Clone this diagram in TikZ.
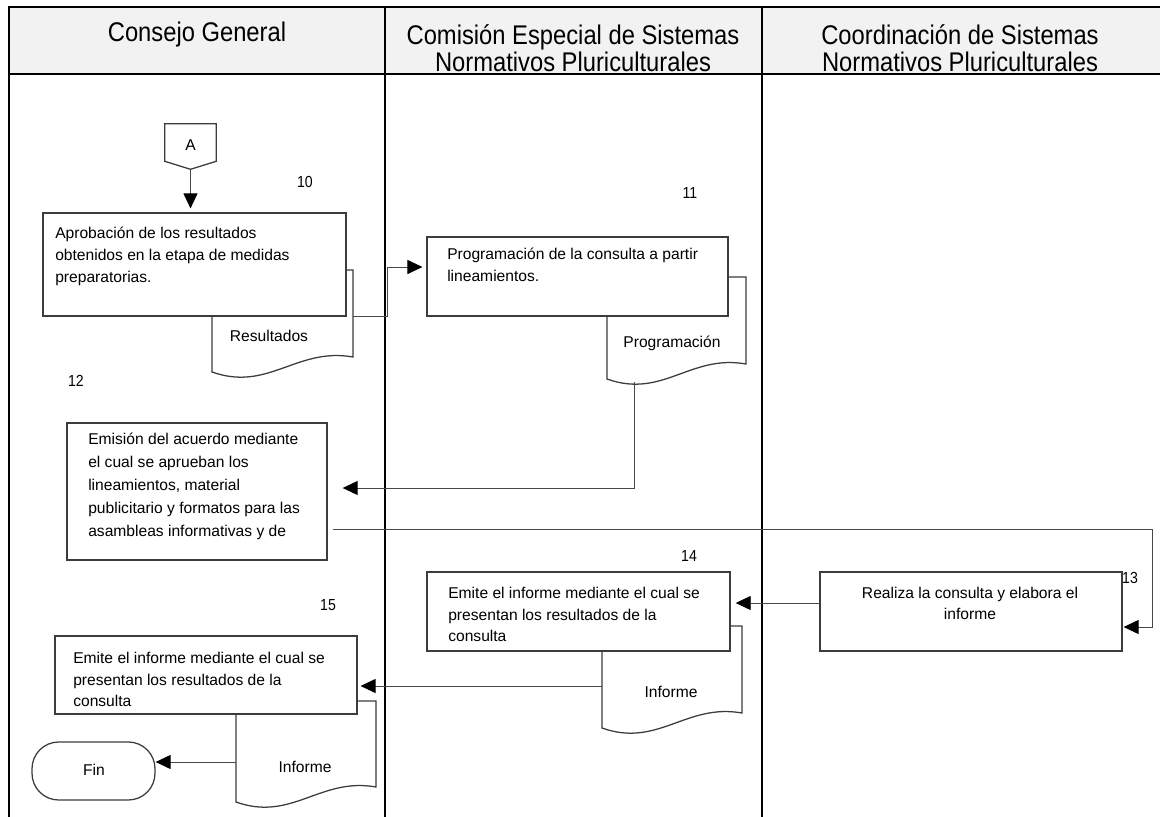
\documentclass[tikz,border=0pt]{standalone}
\usepackage{fontspec}
\setmainfont{Liberation Sans}
\newfontfamily\headfont{Liberation Sans}[FakeStretch=0.88]
\usetikzlibrary{arrows.meta,calc,fit}
\definecolor{lanehead}{HTML}{F2F2F2}
\definecolor{boxline}{HTML}{3C3C3C}
\definecolor{flowline}{HTML}{474747}
% document symbol: name, left, top, right, bottom-left y, label position, label
\newcommand{\docsym}[7]{%
  \draw[docline] (#2,#3) -- (#4,#3) -- (#4,{#5-15})
    .. controls ({#2+0.6*(#4-#2)},{#5-25}) and ({#2+0.4*(#4-#2)},{#5+20}) .. (#2,#5)
    -- cycle;
  \node[fit={(#2,#3) (#4,#5)}] (#1) {};
  \node (#1-t) at (#6) {#7};}

\begin{document}
\begin{tikzpicture}[
  x=0.025cm,
  y=-0.025cm,
  every node/.style={font=\fontsize{11.1}{15.4}\selectfont, inner sep=0pt},
  lane/.style={black, line width=1.8pt},
  headtext/.style={font=\headfont\fontsize{19.2}{19.2}\selectfont, align=center},
  proc/.style={draw=boxline, fill=white, line width=0.9pt},
  boxtext/.style={align=left, anchor=west},
  docline/.style={draw=boxline, fill=white, line width=0.9pt},
  offpage/.style={draw=boxline, line width=0.9pt},
  term/.style={draw=boxline, line width=0.9pt, rounded corners=19pt},
  stepnum/.style={font=\headfont\fontsize{11.4}{12}\selectfont},
  flow/.style={flowline, line width=0.7pt,
    -{Triangle[length=10.7pt, width=10pt, color=black]}}
]
  \useasboundingbox (0,0) rectangle (1160,817);

  % ================= swimlanes ==========================================
  \fill[lanehead] (9,7) rectangle (1160,74);
  \draw[lane] (1160,7) -- (9,7) -- (9,817);
  \draw[lane] (9,74) -- (1160,74);
  \draw[lane] (385,7) -- (385,817);
  \draw[lane] (762,7) -- (762,817);

  \node[headtext] (h-consejo) at (197,35) {Consejo General};
  \node[headtext] (h-comision) at (573,48.5)
    {Comisión Especial de Sistemas\\Normativos Pluriculturales};
  \node[headtext] (h-coord) at (960,48.5)
    {Coordinación de Sistemas\\Normativos Pluriculturales};

  % ================= documents (behind the boxes) =======================
  \docsym{res}{212}{270}{353}{372}{269,336}{Resultados}
  \docsym{progdoc}{607}{277}{746}{379}{672,343}{Programación}
  \docsym{inf14}{602}{626}{742}{728}{671,692}{Informe}
  \docsym{inf15}{236}{701}{376}{802}{305,767}{Informe}

  % ================= process boxes ======================================
  \node[proc, fit={(43,213) (346,316)}] (aprob) {};
  \node[boxtext] (aprob-t) at (55,256.5)
    {Aprobación de los resultados\\obtenidos en la etapa de medidas\\preparatorias.};

  \node[proc, fit={(427,237) (728,316)}] (prog) {};
  \node[boxtext] (prog-t) at (447,264.5)
    {Programación de la consulta a partir\\lineamientos.};

  \node[proc, fit={(67,423) (327,560)}] (emis) {};
  \node[boxtext, font=\fontsize{11.1}{16.4}\selectfont] (emis-t) at (88,486)
    {Emisión del acuerdo mediante\\el cual se aprueban los\\lineamientos, material\\%
     publicitario y formatos para las\\asambleas informativas y de};

  \node[proc, fit={(820,572) (1122,651)}] (real) {};
  \node[align=center] (real-t) at (970,603.5)
    {Realiza la consulta y elabora el\\informe};

  \node[proc, fit={(427,572) (730,651)}] (em14) {};
  \node[boxtext] (em14-t) at (448,614.5)
    {Emite el informe mediante el cual se\\presentan los resultados de la\\consulta};

  \node[proc, fit={(55,636) (357,714)}] (em15) {};
  \node[boxtext] (em15-t) at (73,679.5)
    {Emite el informe mediante el cual se\\presentan los resultados de la\\consulta};

  % ================= connector A and terminal ===========================
  \node[fit={(165,124) (216,161)}] (offA) {};
  \node (offA-t) at (190.5,145) {A};
  \coordinate (offA-tip) at ($(offA.south)+(0,8)$);
  \draw[offpage] (offA.north west) -- (offA.north east) -- (offA.south east)
    -- (offA-tip) -- (offA.south west) -- cycle;

  \node[term, fit={(32,742) (155,800)}] (fin) {};
  \node (fin-t) at (94,770) {Fin};

  % ================= step numbers =======================================
  \node[stepnum] (n10) at (305,182) {10};
  \node[stepnum] (n11) at (690,193) {11};
  \node[stepnum] (n12) at (76,381) {12};
  \node[stepnum] (n13) at (1130,578) {13};
  \node[stepnum] (n14) at (689,556) {14};
  \node[stepnum] (n15) at (328,605) {15};

  % ================= flow ===============================================
  \draw[flow, shorten >=2.8pt] (offA-tip) -- (offA-tip |- aprob.north);
  \draw[flow, shorten >=2.8pt] (aprob.south -| res.east) -- ++(34,0)
    |- ($(prog.west)+(0,-9.5)$);
  \coordinate (progout) at (634,382);
  \draw[flow, shorten >=10.7pt] (progout) |- ($(emis.east)+(0,-3.5)$);
  \coordinate (turn13) at (1152,529);
  \draw[flow, shorten <=3.6pt, shorten >=0.7pt] ($(emis.east)+(0,37.5)$)
    -- (turn13) |- ($(real.east)+(0,15.5)$);
  \draw[flow, shorten >=3.6pt] ($(real.west)+(0,-8.5)$) -- ($(em14.east)+(0,-8.5)$);
  \draw[flow, shorten >=2.1pt] (inf14.west |- 0,686) -- (em15.east |- 0,686);
  \draw[flow] (inf15.west |- 0,762) -- (fin.east |- 0,762);
\end{tikzpicture}
\end{document}
